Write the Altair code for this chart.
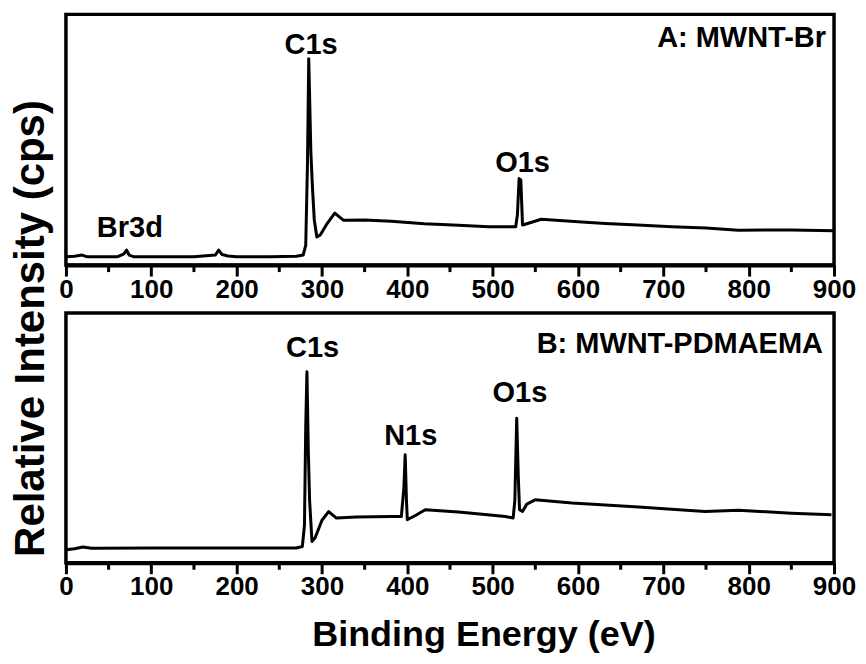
import altair as alt
import pandas as pd

# ---- Spectrum A: MWNT-Br (binding energy eV, relative intensity) ----
energy_a = [0, 10, 19, 25, 60, 68, 71, 74, 80, 150, 175, 179, 183, 190, 200, 240, 270, 278,
            281, 283, 284.5, 286, 287, 289, 291, 294, 298, 305, 315, 325, 350, 381, 420, 460,
            495, 527, 529, 531, 533, 535, 540, 557, 600, 632, 670, 710, 750, 788, 850, 900]
intensity_a = [3.3, 3.5, 4.0, 3.3, 3.3, 4.5, 6.0, 4.0, 3.3, 3.3, 4.0, 6.0, 4.2, 3.6, 3.3, 3.3, 3.5, 4.0,
               8, 40, 82.3, 60, 45, 30, 18, 11.2, 12, 16, 20.7, 17.9, 18.0, 17.5, 16.5, 15.9,
               15.3, 15.3, 20, 34.5, 34, 16, 16.5, 18.3, 17.3, 16.6, 16.0, 15.3, 14.8, 13.9, 14.0, 13.7]

# ---- Spectrum B: MWNT-PDMAEMA ----
energy_b = [0, 10, 20, 30, 100, 200, 270, 277, 279.5, 281, 282.4, 284, 285.5, 288.3, 292, 300,
            307.8, 317, 340, 382, 393, 396, 397.5, 399, 400, 410, 421, 460, 500, 515, 524, 526,
            528.2, 530, 531.5, 535, 540, 549.7, 593, 671, 749, 788, 850, 897]
intensity_b = [5.2, 5.6, 6.3, 5.8, 5.9, 5.9, 5.9, 6.5, 15, 55, 76.5, 45, 25, 8.5, 10, 17,
               20.5, 17.9, 18.3, 18.5, 18.5, 30, 43.2, 25, 17.2, 19, 21.2, 20.3, 19.0, 18.5, 17.9, 25,
               57.9, 35, 21.2, 20.5, 23.5, 25.2, 23.9, 22.3, 20.5, 21.0, 19.8, 19.2]

# ---- Peak labels ----
labels_a = ["C1s", "Br3d", "O1s"]
labels_a_x = [287.3, 74.9, 535]
labels_a_y = [84.3, 11.3, 37.2]
labels_b = ["C1s", "N1s", "O1s"]
labels_b_x = [289, 404, 532]
labels_b_y = [82.5, 47.2, 64.5]
panel_names = ["A: MWNT-Br", "B: MWNT-PDMAEMA"]
panel_x = [890.6, 887]
panel_y = [87.0, 83.9]

major_ticks = [0, 100, 200, 300, 400, 500, 600, 700, 800, 900]
minor_ticks = [50, 150, 250, 350, 450, 550, 650, 750, 850]

FONT = "Liberation Sans, Arial, sans-serif"
W = 769


def panel(energy, intensity, labels, lx, ly, name, nx, ny, height, bottom):
    df = pd.DataFrame({"e": energy, "i": intensity})
    ann = pd.DataFrame({"t": labels, "e": lx, "i": ly})
    pn = pd.DataFrame({"t": [name], "e": [nx], "i": [ny]})
    mt = pd.DataFrame({"e": minor_ticks})

    major_kw = dict(
        values=major_ticks,
        tickSize=11, tickWidth=3, tickColor="black",
        domainColor="black", domainWidth=4,
        labelFont=FONT, labelFontSize=26, labelFontWeight="bold", labelColor="black",
        labelPadding=0, labelFlush=False, labelOverlap=False,
        grid=False,
    )
    if bottom:
        x_axis = alt.Axis(title="Binding Energy (eV)", titleFont=FONT, titleFontSize=36,
                          titleFontWeight="bold", titleColor="black", titleX=418, titleY=83,
                          titleBaseline="alphabetic", **major_kw)
        y_axis = alt.Axis(title="", domain=False, ticks=False, labels=False, grid=False)
    else:
        x_axis = alt.Axis(title="", **major_kw)
        y_axis = alt.Axis(title="Relative Intensity (cps)", domain=False, ticks=False,
                          labels=False, grid=False, titleFont=FONT, titleFontSize=42,
                          titleFontWeight="bold", titleColor="black", titleX=-22, titleY=314,
                          titleBaseline="alphabetic")

    xs = alt.Scale(domain=[0, 900], nice=False, zero=False)
    ys = alt.Scale(domain=[0, 100], nice=False)

    line = alt.Chart(df).mark_line(color="black", strokeWidth=3, strokeJoin="round").encode(
        x=alt.X("e:Q", scale=xs, axis=x_axis),
        y=alt.Y("i:Q", scale=ys, axis=y_axis),
    )
    minor = alt.Chart(mt).mark_rule(color="black", strokeWidth=3).encode(
        x=alt.X("e:Q", scale=xs),
        y=alt.value(height + 1),
        y2=alt.value(height + 7),
    )
    text = alt.Chart(ann).mark_text(font=FONT, fontSize=29, fontWeight="bold", color="black",
                                    align="center", baseline="alphabetic").encode(
        x="e:Q", y="i:Q", text="t:N")
    ptext = alt.Chart(pn).mark_text(font=FONT, fontSize=29, fontWeight="bold", color="black",
                                    align="right", baseline="alphabetic").encode(
        x="e:Q", y="i:Q", text="t:N")
    return alt.layer(line, minor, text, ptext).properties(
        width=W, height=height,
        view=alt.ViewBackground(stroke="black", strokeWidth=3.5, fill="white"))


top = panel(energy_a, intensity_a, labels_a, labels_a_x, labels_a_y,
            panel_names[0], panel_x[0], panel_y[0], 251, False)
bot = panel(energy_b, intensity_b, labels_b, labels_b_x, labels_b_y,
            panel_names[1], panel_x[1], panel_y[1], 250, True)

chart = alt.vconcat(top, bot, spacing=48, bounds="flush").properties(
    padding={"left": 0, "top": 4, "right": 0, "bottom": 0}
).configure_view(stroke="black", strokeWidth=3.5).configure(background="white")

chart.save("out.html", embed_options={"renderer": "svg", "actions": False})
